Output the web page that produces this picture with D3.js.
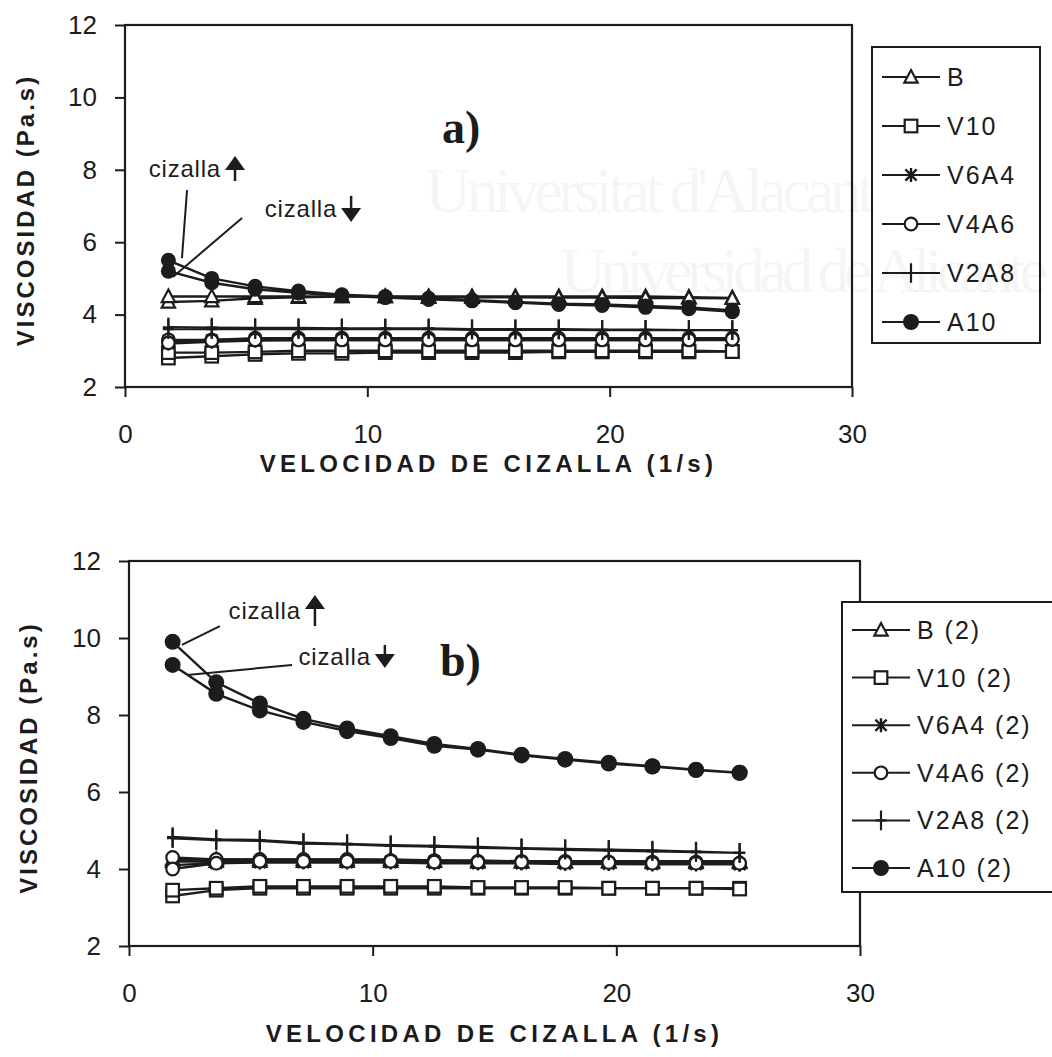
<!DOCTYPE html>
<html>
<head>
<meta charset="utf-8">
<script src="https://cdn.jsdelivr.net/npm/d3@7"></script>
<style>
    body { margin: 0; background: #fff; }
</style>
</head>
<body>
<div id="chart"></div>
<script>
// ---- Data ----
const shearRates = [1.79, 3.58, 5.37, 7.16, 8.95, 10.74, 12.53, 14.32, 16.11, 17.9, 19.69, 21.48, 23.27, 25.06];
const yTicks = [2, 4, 6, 8, 10, 12];
const xTicks = [0, 10, 20, 30];

const namesA = ["B", "V10", "V6A4", "V4A6", "V2A8", "A10"];
const namesB = ["B (2)", "V10 (2)", "V6A4 (2)", "V4A6 (2)", "V2A8 (2)", "A10 (2)"];
const markerTypes = ["triangle", "square", "asterisk", "circle", "plus", "dot"];

// panel a) - increasing shear (up) then decreasing shear (down)
const aB_up     = [4.35, 4.38, 4.45, 4.48, 4.5, 4.5, 4.5, 4.5, 4.5, 4.5, 4.5, 4.5, 4.48, 4.46];
const aB_down   = [4.5, 4.5, 4.5, 4.5, 4.5, 4.5, 4.48, 4.48, 4.48, 4.47, 4.47, 4.46, 4.46, 4.45];
const aV10_up   = [2.8, 2.85, 2.9, 2.93, 2.93, 2.95, 2.95, 2.95, 2.95, 2.97, 2.97, 2.97, 2.97, 2.98];
const aV10_down = [2.95, 2.95, 2.97, 3.0, 3.0, 3.0, 3.0, 3.0, 3.0, 3.0, 3.0, 3.0, 3.0, 2.98];
const aV6A4_up  = [3.2, 3.25, 3.28, 3.3, 3.3, 3.3, 3.3, 3.3, 3.3, 3.3, 3.3, 3.3, 3.3, 3.3];
const aV6A4_down= [3.28, 3.3, 3.32, 3.32, 3.32, 3.32, 3.3, 3.3, 3.3, 3.3, 3.3, 3.3, 3.3, 3.3];
const aV4A6_up  = [3.3, 3.3, 3.35, 3.35, 3.35, 3.35, 3.35, 3.35, 3.35, 3.35, 3.35, 3.35, 3.35, 3.35];
const aV4A6_down= [3.22, 3.28, 3.3, 3.3, 3.3, 3.3, 3.3, 3.3, 3.3, 3.3, 3.3, 3.3, 3.3, 3.32];
const aV2A8_up  = [3.65, 3.64, 3.63, 3.63, 3.62, 3.62, 3.62, 3.6, 3.6, 3.6, 3.58, 3.58, 3.57, 3.57];
const aV2A8_down= [3.6, 3.6, 3.6, 3.6, 3.6, 3.6, 3.6, 3.58, 3.58, 3.58, 3.57, 3.57, 3.57, 3.57];
const aA10_up   = [5.5, 5.0, 4.78, 4.65, 4.55, 4.5, 4.45, 4.4, 4.35, 4.3, 4.28, 4.24, 4.2, 4.12];
const aA10_down = [5.2, 4.88, 4.7, 4.6, 4.52, 4.47, 4.42, 4.38, 4.33, 4.28, 4.25, 4.2, 4.16, 4.08];

// panel b)
const bB_up     = [4.25, 4.25, 4.25, 4.25, 4.25, 4.25, 4.22, 4.22, 4.2, 4.2, 4.2, 4.2, 4.2, 4.2];
const bB_down   = [4.2, 4.2, 4.2, 4.2, 4.2, 4.2, 4.2, 4.18, 4.18, 4.18, 4.18, 4.17, 4.17, 4.17];
const bV10_up   = [3.3, 3.45, 3.5, 3.5, 3.5, 3.5, 3.5, 3.5, 3.5, 3.5, 3.5, 3.5, 3.5, 3.5];
const bV10_down = [3.45, 3.5, 3.55, 3.55, 3.55, 3.55, 3.55, 3.52, 3.52, 3.52, 3.5, 3.5, 3.5, 3.48];
const bV6A4_up  = [4.2, 4.2, 4.2, 4.2, 4.2, 4.2, 4.2, 4.15, 4.15, 4.15, 4.15, 4.15, 4.15, 4.12];
const bV6A4_down= [4.1, 4.15, 4.17, 4.17, 4.17, 4.17, 4.15, 4.15, 4.15, 4.13, 4.13, 4.12, 4.12, 4.12];
const bV4A6_up  = [4.3, 4.25, 4.25, 4.25, 4.25, 4.22, 4.22, 4.2, 4.2, 4.2, 4.18, 4.18, 4.18, 4.15];
const bV4A6_down= [4.0, 4.15, 4.2, 4.2, 4.2, 4.2, 4.18, 4.18, 4.18, 4.17, 4.17, 4.15, 4.15, 4.15];
const bV2A8_up  = [4.83, 4.77, 4.75, 4.68, 4.65, 4.62, 4.6, 4.57, 4.54, 4.52, 4.5, 4.48, 4.45, 4.42];
const bV2A8_down= [4.8, 4.75, 4.73, 4.66, 4.64, 4.6, 4.58, 4.55, 4.53, 4.5, 4.48, 4.46, 4.44, 4.42];
const bA10_up   = [9.9, 8.85, 8.3, 7.9, 7.65, 7.45, 7.25, 7.12, 6.97, 6.86, 6.76, 6.67, 6.58, 6.5];
const bA10_down = [9.3, 8.55, 8.12, 7.82, 7.58, 7.4, 7.2, 7.1, 6.95, 6.84, 6.74, 6.66, 6.57, 6.5];

const upA   = [aB_up, aV10_up, aV6A4_up, aV4A6_up, aV2A8_up, aA10_up];
const downA = [aB_down, aV10_down, aV6A4_down, aV4A6_down, aV2A8_down, aA10_down];
const upB   = [bB_up, bV10_up, bV6A4_up, bV4A6_up, bV2A8_up, bA10_up];
const downB = [bB_down, bV10_down, bV6A4_down, bV4A6_down, bV2A8_down, bA10_down];

// annotation positions in data units: arrow = [x, tip, tail]
const notesA = {
    up:   { arrow: [4.54, 8.38, 7.69], lead: [[2.56, 7.44], [2.35, 5.56]] },
    down: { arrow: [9.33, 6.56, 7.28], lead: [[4.83, 6.67], [1.98, 5.04]] }
};
const notesB = {
    up:   { arrow: [7.63, 11.12, 10.31], lead: [[3.73, 10.31], [2.17, 9.82]] },
    down: { arrow: [10.5, 9.22, 9.82], lead: [[6.69, 9.3], [2.38, 9.04]] }
};

const W = 1052, H = 1057;
const ink = "#1c1c1c";
const sans = "'Liberation Sans', Arial, sans-serif";
const serif = "'Liberation Serif', 'Times New Roman', serif";

const svg = d3.select("#chart").append("svg")
    .attr("width", W)
    .attr("height", H)
    .style("display", "block")
    .style("font-family", sans);

svg.append("rect").attr("width", W).attr("height", H).attr("fill", "#fff");

function addSymbol(g, type, s) {
    if (type === "triangle") {
        g.append("path")
            .attr("d", `M0,${-s}L${s * 0.95},${s * 0.8}L${-s * 0.95},${s * 0.8}Z`)
            .attr("fill", "#fff").attr("stroke", ink).attr("stroke-width", 2.2);
    } else if (type === "square") {
        g.append("rect")
            .attr("x", -s * 0.9).attr("y", -s * 0.9)
            .attr("width", s * 1.8).attr("height", s * 1.8)
            .attr("fill", "#fff").attr("stroke", ink).attr("stroke-width", 2.2);
    } else if (type === "asterisk") {
        const a = s * 0.8;
        g.append("path")
            .attr("d", `M0,${-s}V${s}M${-a},${-a}L${a},${a}M${a},${-a}L${-a},${a}`)
            .attr("stroke", ink).attr("stroke-width", 2.4);
    } else if (type === "circle") {
        g.append("circle").attr("r", s * 0.9)
            .attr("fill", "#fff").attr("stroke", ink).attr("stroke-width", 2.2);
    } else if (type === "plus") {
        g.append("path")
            .attr("d", `M0,${-s * 1.4}V${s * 1.4}M${-s * 0.8},0H${s * 0.8}`)
            .attr("stroke", ink).attr("stroke-width", 2.2);
    } else if (type === "dot") {
        g.append("circle").attr("r", s).attr("fill", ink);
    }
}

function drawPanel(cfg) {
    const x = d3.scaleLinear().domain([0, 30]).range([cfg.left, cfg.right]);
    const y = d3.scaleLinear().domain([2, 12]).range([cfg.bottom, cfg.top]);

    const g = svg.append("g");

    // frame
    g.append("rect")
        .attr("x", cfg.left).attr("y", cfg.top)
        .attr("width", cfg.right - cfg.left).attr("height", cfg.bottom - cfg.top)
        .attr("fill", "none").attr("stroke", ink).attr("stroke-width", 2.2);

    // ---- Axes ----
    const ya = g.append("g")
        .attr("transform", `translate(${cfg.left},0)`)
        .call(d3.axisLeft(y).tickValues(yTicks).tickSize(10).tickPadding(18));
    const xa = g.append("g")
        .attr("transform", `translate(0,${cfg.bottom})`)
        .call(d3.axisBottom(x).tickValues(xTicks).tickSize(10).tickPadding(28));
    [ya, xa].forEach(a => {
        a.select(".domain").remove();
        a.selectAll("line").attr("stroke", ink).attr("stroke-width", 2);
        a.selectAll("text")
            .attr("font-family", sans)
            .attr("font-size", 26)
            .attr("fill", ink);
    });

    // axis titles
    g.append("text")
        .attr("transform", `translate(${cfg.yTitleX},${(cfg.top + cfg.bottom) / 2 + 4}) rotate(-90)`)
        .attr("text-anchor", "middle")
        .attr("dominant-baseline", "central")
        .attr("fill", ink)
        .style("font-size", "24px")
        .style("font-weight", "bold")
        .style("letter-spacing", "3px")
        .text("VISCOSIDAD (Pa.s)");

    g.append("text")
        .attr("x", (cfg.left + cfg.right) / 2)
        .attr("y", cfg.xTitleY)
        .attr("text-anchor", "middle")
        .attr("dominant-baseline", "central")
        .attr("fill", ink)
        .style("font-size", "24px")
        .style("font-weight", "bold")
        .style("letter-spacing", "4.3px")
        .text("VELOCIDAD DE CIZALLA (1/s)");

    // panel label
    g.append("text")
        .attr("x", x(cfg.label.pos[0]))
        .attr("y", y(cfg.label.pos[1]))
        .attr("fill", ink)
        .style("font-family", serif)
        .style("font-size", "46px")
        .style("font-weight", "bold")
        .text(cfg.label.text);

    // ---- Series (up curve then down curve, one path each) ----
    const line = d3.line().x(d => x(d[0])).y(d => y(d[1]));
    cfg.names.forEach((name, i) => {
        const upPts = shearRates.map((r, k) => [r, cfg.up[i][k]]);
        const downPts = shearRates.map((r, k) => [r, cfg.down[i][k]]).reverse();
        const pts = upPts.concat(downPts);

        g.append("path")
            .datum(pts)
            .attr("d", line)
            .attr("fill", "none")
            .attr("stroke", ink)
            .attr("stroke-width", 2.4);

        g.selectAll(null)
            .data(pts)
            .join("g")
            .attr("transform", d => `translate(${x(d[0])},${y(d[1])})`)
            .each(function () {
                addSymbol(d3.select(this), markerTypes[i], markerTypes[i] === "dot" ? cfg.dotR : 7);
            });
    });

    // ---- Annotations ----
    ["up", "down"].forEach(dir => {
        const n = cfg.notes[dir];
        g.append("line")
            .attr("x1", x(n.lead[0][0])).attr("y1", y(n.lead[0][1]))
            .attr("x2", x(n.lead[1][0])).attr("y2", y(n.lead[1][1]))
            .attr("stroke", ink).attr("stroke-width", 2);
        const ax = x(n.arrow[0]), tip = y(n.arrow[1]), tail = y(n.arrow[2]);
        const sgn = tail > tip ? 1 : -1;
        const headLen = 14, headW = 10;
        g.append("text")
            .attr("x", ax - 14)
            .attr("y", (tip + tail) / 2)
            .attr("text-anchor", "end")
            .attr("dominant-baseline", "central")
            .attr("fill", ink)
            .style("font-size", "24px")
            .style("letter-spacing", "0.8px")
            .text("cizalla");
        g.append("path")
            .attr("d", `M${ax},${tip}L${ax + headW},${tip + sgn * headLen}L${ax - headW},${tip + sgn * headLen}Z`)
            .attr("fill", ink);
        g.append("line")
            .attr("x1", ax).attr("x2", ax)
            .attr("y1", tip + sgn * headLen).attr("y2", tail)
            .attr("stroke", ink).attr("stroke-width", 2.5);
    });

    // ---- Legend ----
    const lg = svg.append("g");
    lg.append("rect")
        .attr("x", cfg.legend.x).attr("y", cfg.legend.y)
        .attr("width", cfg.legend.w).attr("height", cfg.legend.h)
        .attr("fill", "#fff").attr("stroke", ink).attr("stroke-width", 2);
    const item = lg.selectAll(".item")
        .data(cfg.names)
        .join("g")
        .attr("transform", (d, i) => `translate(${cfg.legend.x + 10},${cfg.legend.first + i * cfg.legend.step})`);
    item.append("line")
        .attr("x1", 0).attr("x2", 58)
        .attr("stroke", ink).attr("stroke-width", 2);
    item.each(function (d, i) {
        const s = d3.select(this).append("g").attr("transform", "translate(29,0)");
        addSymbol(s, markerTypes[i], markerTypes[i] === "dot" ? 8 : 7);
    });
    item.append("text")
        .attr("x", 65)
        .attr("dominant-baseline", "central")
        .attr("fill", ink)
        .style("font-size", "25px")
        .style("letter-spacing", "2px")
        .text(d => d);
}

drawPanel({
    left: 125, right: 852, top: 25, bottom: 387,
    yTitleX: 25, xTitleY: 463,
    names: namesA, up: upA, down: downA, dotR: 7.5,
    label: { text: "a)", pos: [13.08, 8.74] },
    notes: notesA,
    legend: { x: 872, y: 47, w: 168, h: 296, first: 77, step: 49 }
});

drawPanel({
    left: 129, right: 860, top: 561, bottom: 946,
    yTitleX: 28, xTitleY: 1033,
    names: namesB, up: upB, down: downB, dotR: 8,
    label: { text: "b)", pos: [12.76, 9.01] },
    notes: notesB,
    legend: { x: 842, y: 602, w: 220, h: 290, first: 630, step: 47.6 }
});

// faint watermark of the scanned page, lying over everything
const wm = svg.append("g").attr("fill", "#000").attr("fill-opacity", 0.04).style("pointer-events", "none");
wm.append("text").attr("x", 425).attr("y", 212).attr("textLength", 450)
    .style("font-family", serif).style("font-size", "64px").text("Universitat d'Alacant");
wm.append("text").attr("x", 560).attr("y", 292).attr("textLength", 488)
    .style("font-family", serif).style("font-size", "64px").text("Universidad de Alicante");
</script>
</body>
</html>
